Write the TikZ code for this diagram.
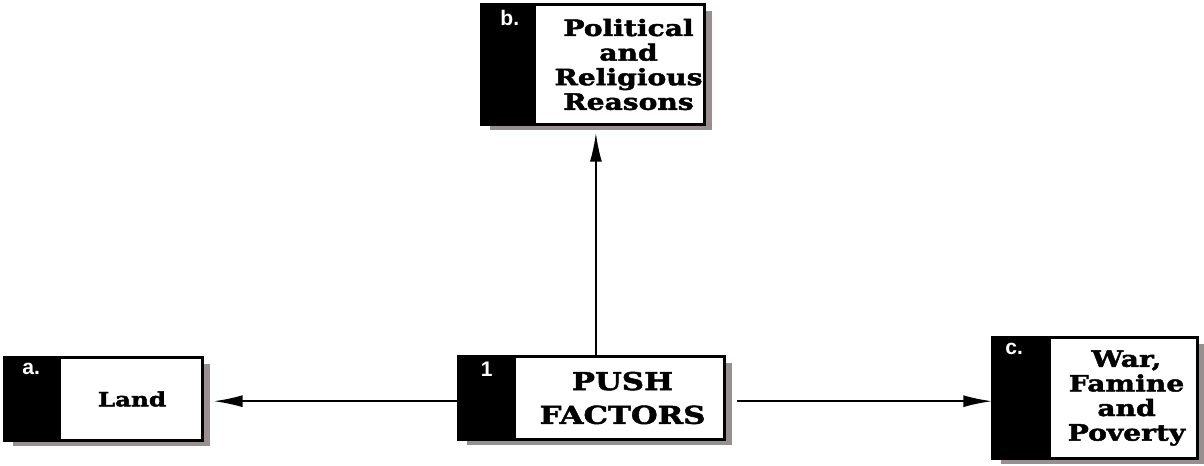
\documentclass[tikz,border=0pt]{standalone}
\usepackage{fontspec}
\setmainfont{DejaVu Serif}
\newfontfamily\capfont{DejaVu Serif}[FakeStretch=1.25,BoldFeatures={FakeBold=2}]
\newfontfamily\tagfont{Liberation Sans}
\usepackage{tikz}
\usetikzlibrary{arrows.meta}
\usetikzlibrary{positioning,shadows}
\definecolor{shadowgray}{RGB}{152,144,144}

\begin{document}
\begin{tikzpicture}[x=0.025cm,y=-0.025cm,
    factor/.style={draw,line width=1.3pt,fill=white,
      drop shadow={fill=shadowgray,opacity=1,shadow xshift=0.21cm,shadow yshift=-0.16cm}},
    band/.style={fill=black},
    tag/.style={text=white,font=\tagfont\bfseries\fontsize{15}{17}\selectfont,anchor=north,inner sep=1pt},
    caption/.style={align=center,font=\capfont\bfseries\fontsize{16}{17.5}\selectfont},
    link/.style={line width=1.3pt,-{Latex[length=0.72cm,width=0.3cm]}}]
  \useasboundingbox (0,0) rectangle (1204,466);
  % boxes
  \node[factor,minimum width=5.55cm,minimum height=2.975cm] (b) at (593,64.5) {};
  \node[factor,minimum width=4.925cm,minimum height=2.05cm] (a) at (103.5,399) {};
  \node[factor,minimum width=6.625cm,minimum height=2.05cm] (push) at (591.5,398) {};
  \node[factor,minimum width=5.1cm,minimum height=3.0cm] (c) at (1095,398) {};
  % black bands
  \fill[band] (b.north west) rectangle ([xshift=1.375cm]b.south west) coordinate (b_band);
  \fill[band] (a.north west) rectangle ([xshift=1.425cm]a.south west) coordinate (a_band);
  \fill[band] (push.north west) rectangle ([xshift=1.45cm]push.south west) coordinate (push_band);
  \fill[band] (c.north west) rectangle ([xshift=1.475cm]c.south west) coordinate (c_band);
  \foreach \n in {b,a,push,c}{
    \draw[line width=1.3pt] (\n.north west) rectangle (\n.south east);
    \path (\n_band |- \n) -- (\n.east) coordinate[pos=.5] (\n_mid);
  }
  % tags
  \node[tag] (b_tag) at ([xshift=0.72cm,yshift=-0.1cm]b.north west) {b.};
  \node[tag] (a_tag) at ([xshift=0.68cm,yshift=-0.12cm]a.north west) {a.};
  \node[tag] (push_tag) at ([xshift=0.72cm,yshift=-0.1cm]push.north west) {1};
  \node[tag] (c_tag) at ([xshift=0.55cm,yshift=-0.12cm]c.north west) {c.};
  % texts
  \node[caption] (b_text) at ([xshift=0.2cm]b_mid) {Political\\and\\Religious\\Reasons};
  \node[caption,font=\capfont\bfseries\fontsize{14}{17}\selectfont] (a_text) at (a_mid) {Land};
  \node[caption,font=\capfont\bfseries\fontsize{17.5}{24}\selectfont] (push_text) at ([xshift=0.05cm]push_mid) {PUSH\\FACTORS};
  \node[caption] (c_text) at ([xshift=0.05cm]c_mid) {War,\\Famine\\and\\Poverty};
  % connectors
  \draw[link] ([xshift=0.11cm]push.north) -- ([xshift=0.11cm,yshift=-0.2cm]push.north |- b.south);
  \draw[link] ([yshift=-0.08cm]push.west) -- ([xshift=0.27cm,yshift=-0.08cm]a.east |- push.west);
  \draw[link] ([xshift=0.3cm,yshift=-0.08cm]push.east) -- ([yshift=-0.08cm]c.west |- push.east);
\end{tikzpicture}
\end{document}
